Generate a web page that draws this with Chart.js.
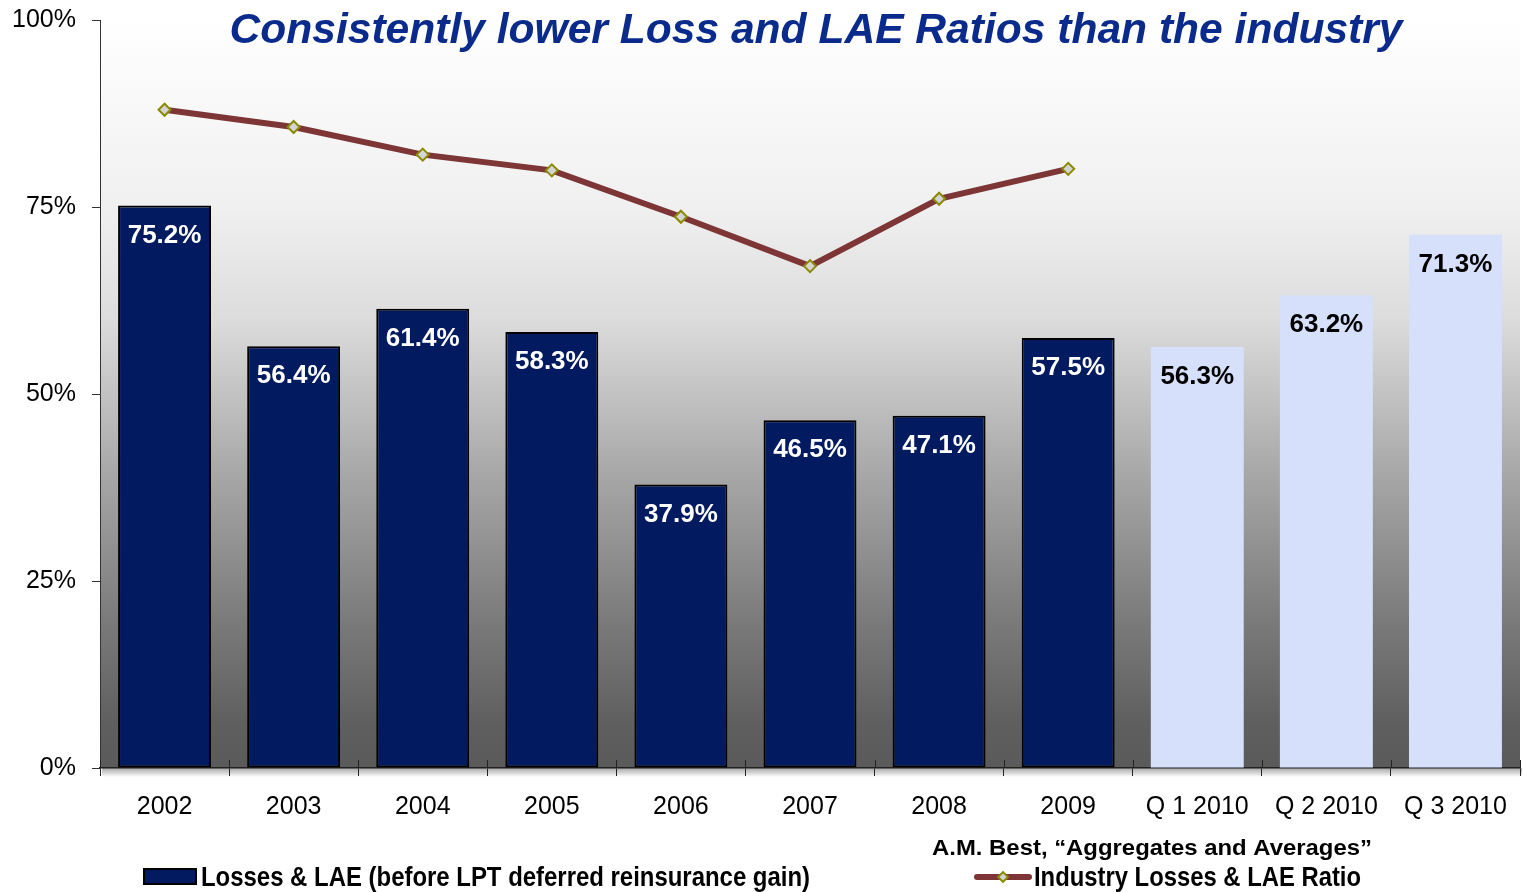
<!DOCTYPE html>
<html>
<head>
<meta charset="utf-8">
<script src="https://cdn.jsdelivr.net/npm/chart.js@4/dist/chart.umd.min.js"></script>
<style>
html,body{margin:0;padding:0;background:#fff;}
#wrap{width:1523px;height:892px;position:relative;}
</style>
</head>
<body>
<div id="wrap"><canvas id="c" width="1523" height="892"></canvas></div>
<script>
const categories = ['2002','2003','2004','2005','2006','2007','2008','2009','Q 1 2010','Q 2 2010','Q 3 2010'];
const lossRatio = [75.2, 56.4, 61.4, 58.3, 37.9, 46.5, 47.1, 57.5, 56.3, 63.2, 71.3];
const industryRatio = [88.0, 85.7, 82.0, 79.9, 73.7, 67.1, 76.1, 80.1, null, null, null];
const yTicks = [0, 25, 50, 75, 100];
const annualCount = 8;
const titleText = 'Consistently lower Loss and LAE Ratios than the industry';
const seriesNames = ['Losses & LAE (before LPT deferred reinsurance gain)', 'Industry Losses & LAE Ratio'];
const sourceText = 'A.M. Best, \u201cAggregates and Averages\u201d';

const DARK = '#021a5f';
const LIGHT = '#d6e0fa';
const LINE = '#7d3536';
const FONT = '"Liberation Sans", Arial, sans-serif';
const NARROW = '"Liberation Sans Narrow", "Liberation Sans", Arial, sans-serif';

function fitText(ctx, text, x, y, targetW, font, color, align) {
  ctx.save();
  ctx.font = font;
  ctx.fillStyle = color;
  ctx.textBaseline = 'alphabetic';
  const w = ctx.measureText(text).width;
  const s = targetW / w;
  let left = x;
  if (align === 'center') left = x - targetW / 2;
  ctx.translate(left, y);
  ctx.scale(s, 1);
  ctx.textAlign = 'left';
  ctx.fillText(text, 0, 0);
  ctx.restore();
}

const bgPlugin = {
  id: 'bg',
  beforeDraw(chart) {
    const {ctx, chartArea: a} = chart;
    const g = ctx.createLinearGradient(0, a.top, 0, a.bottom);
    g.addColorStop(0, '#ffffff');
    g.addColorStop(0.25, '#f0f0f0');
    g.addColorStop(0.4, '#dcdcdc');
    g.addColorStop(0.6, '#a9a9a9');
    g.addColorStop(0.8, '#7b7b7b');
    g.addColorStop(0.94, '#5f5f5f');
    g.addColorStop(1, '#5a5a5a');
    ctx.save();
    ctx.fillStyle = g;
    ctx.fillRect(a.left, a.top, a.right - a.left, a.bottom - a.top);
    const sg = ctx.createLinearGradient(0, a.bottom, 0, a.bottom + 9);
    sg.addColorStop(0, 'rgba(0,0,0,0.35)');
    sg.addColorStop(1, 'rgba(0,0,0,0)');
    ctx.fillStyle = sg;
    ctx.fillRect(a.left + 2, a.bottom, a.right - a.left, 9);
    ctx.restore();
  }
};

const overlayPlugin = {
  id: 'overlay',
  afterDatasetsDraw(chart) {
    const ctx = chart.ctx;
    const meta = chart.getDatasetMeta(0);
    ctx.save();
    ctx.font = 'bold 26px ' + FONT;
    ctx.textAlign = 'center';
    ctx.textBaseline = 'middle';
    meta.data.forEach((bar, i) => {
      const v = lossRatio[i];
      ctx.fillStyle = i < annualCount ? '#ffffff' : '#000000';
      ctx.fillText(v.toFixed(1) + '%', bar.x, bar.y + 30);
    });
    ctx.restore();
  },
  afterDraw(chart) {
    const ctx = chart.ctx;
    const xs = chart.scales.x;
    const a = chart.chartArea;
    ctx.save();
    ctx.strokeStyle = '#222';
    ctx.lineWidth = 1;
    const n = categories.length;
    const step = (a.right - a.left) / n;
    for (let i = 0; i <= n; i++) {
      const x = Math.round(xs.getPixelForValue(0) - step / 2 + i * step) + 0.5;
      ctx.beginPath();
      ctx.moveTo(x, a.bottom - 8);
      ctx.lineTo(x, a.bottom);
      ctx.stroke();
    }
    ctx.restore();
    fitText(ctx, titleText, 816, 43, 1173, 'italic bold 43px ' + FONT, '#0a2b8c', 'center');
    fitText(ctx, sourceText, 932, 855, 440, 'bold 22px ' + FONT, '#000', 'left');
    ctx.save();
    ctx.fillStyle = DARK;
    ctx.strokeStyle = '#000';
    ctx.lineWidth = 2;
    ctx.fillRect(144, 869, 52, 15);
    ctx.strokeRect(144, 869, 52, 15);
    ctx.restore();
    fitText(ctx, seriesNames[0], 201, 886, 609, 'bold 27px ' + NARROW, '#000', 'left');
    ctx.save();
    ctx.strokeStyle = LINE;
    ctx.lineWidth = 6;
    ctx.lineCap = 'round';
    ctx.beginPath();
    ctx.moveTo(977, 877);
    ctx.lineTo(1029, 877);
    ctx.stroke();
    ctx.translate(1003, 877);
    ctx.rotate(Math.PI / 4);
    ctx.fillStyle = '#d4d4d4';
    ctx.strokeStyle = '#8a8a00';
    ctx.lineWidth = 2;
    ctx.fillRect(-3.5, -3.5, 7, 7);
    ctx.strokeRect(-3.5, -3.5, 7, 7);
    ctx.restore();
    fitText(ctx, seriesNames[1], 1034, 886, 327, 'bold 27px ' + NARROW, '#000', 'left');
  }
};

new Chart(document.getElementById('c'), {
  type: 'bar',
  data: {
    labels: categories,
    datasets: [
      {
        type: 'bar',
        label: seriesNames[0],
        data: lossRatio,
        order: 2,
        backgroundColor: ctx => ctx.dataIndex < annualCount ? DARK : LIGHT,
        borderColor: '#000000',
        borderWidth: ctx => ctx.dataIndex < annualCount ? 2 : 0,
        borderSkipped: false,
        categoryPercentage: 1,
        barPercentage: 0.72
      },
      {
        type: 'line',
        label: seriesNames[1],
        data: industryRatio,
        order: 1,
        borderColor: LINE,
        borderWidth: 6,
        tension: 0,
        spanGaps: false,
        pointStyle: 'rectRot',
        pointRadius: 6,
        pointBackgroundColor: '#d4d4d4',
        pointBorderColor: '#8a8a00',
        pointBorderWidth: 2
      }
    ]
  },
  options: {
    responsive: false,
    animation: false,
    events: [],
    layout: { autoPadding: false, padding: { left: 0, right: 3, top: 20, bottom: 0 } },
    plugins: {
      legend: { display: false },
      title: { display: false },
      tooltip: { enabled: false }
    },
    scales: {
      x: {
        offset: true,
        grid: { display: true, drawOnChartArea: false, drawTicks: true, tickLength: 8, color: '#222', offset: true },
        border: { display: true, color: '#222', width: 1.5 },
        ticks: { color: '#000', font: { family: FONT, size: 25 }, padding: 16, maxRotation: 0, autoSkip: false },
        afterFit: s => { s.height = 124; s.paddingLeft = 0; s.paddingRight = 0; }
      },
      y: {
        min: 0,
        max: 100,
        afterBuildTicks: s => { s.ticks = yTicks.map(v => ({ value: v })); },
        grid: { display: true, drawOnChartArea: false, drawTicks: true, tickLength: 8, color: '#333' },
        border: { display: true, color: '#333', width: 1 },
        ticks: { color: '#000', font: { family: FONT, size: 25 }, padding: 16, callback: v => v + '%' },
        afterFit: s => { s.width = 100; s.paddingTop = 0; s.paddingBottom = 0; }
      }
    }
  },
  plugins: [bgPlugin, overlayPlugin]
});
</script>
</body>
</html>
